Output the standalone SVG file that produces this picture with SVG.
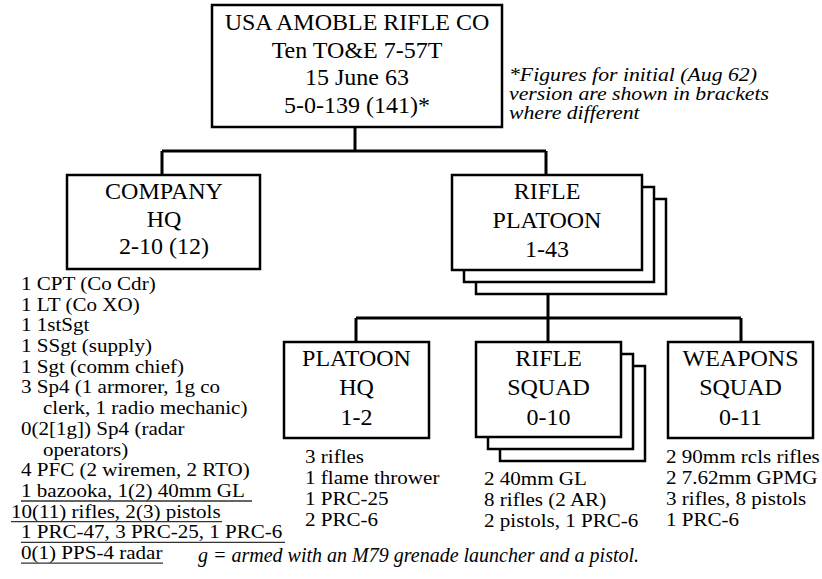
<svg xmlns="http://www.w3.org/2000/svg" width="822" height="579" viewBox="0 0 822 579">
<style>
.box{fill:#fff;stroke:#000;stroke-width:2.5}
.conn{fill:none;stroke:#000;stroke-width:3}
.t{font-family:'Liberation Serif','Times New Roman',serif;fill:#000}
.bt{font-size:24px;text-anchor:middle}
.lt{font-size:19.5px}
.it{font-style:italic}
.ul{stroke:#333;stroke-width:1.3}
</style>
<rect width="822" height="579" fill="#fff"/>
<g id="connectors">
<path class="conn" d="M355 127V151M162 151H546M162 151V175M546 151V175"/>
<path class="conn" d="M548 294V342M356 318H741M356 318V342M741 318V342"/>
</g>
<g id="top" class="t bt">
<rect class="box" x="212" y="5" width="290" height="122"/>
<text x="357" y="30">USA AMOBLE RIFLE CO</text>
<text x="357" y="58">Ten TO&amp;E 7-57T</text>
<text x="357" y="85">15 June 63</text>
<text x="357" y="113">5-0-139 (141)*</text>
</g>
<g id="note" class="t it" font-size="19" transform="translate(509,0) scale(1.145,1)">
<text x="0" y="81">*Figures for initial (Aug 62)</text>
<text x="0" y="100">version are shown in brackets</text>
<text x="0" y="119">where different</text>
</g>
<g id="company-hq" class="t bt">
<rect class="box" x="67" y="175" width="193" height="94"/>
<text x="164" y="199">COMPANY</text>
<text x="164" y="227">HQ</text>
<text x="164" y="254">2-10 (12)</text>
</g>
<g id="company-hq-list">
<g class="t lt" transform="translate(11,0) scale(1.08,1)">
<text x="9.26" y="290">1 CPT (Co Cdr)</text>
<text x="9.26" y="310.7">1 LT (Co XO)</text>
<text x="9.26" y="331.4">1 1stSgt</text>
<text x="9.26" y="352.1">1 SSgt (supply)</text>
<text x="9.26" y="372.8">1 Sgt (comm chief)</text>
<text x="9.26" y="393.5">3 Sp4 (1 armorer, 1g co</text>
<text x="29.6" y="414.2">clerk, 1 radio mechanic)</text>
<text x="9.26" y="434.9">0(2[1g]) Sp4 (radar</text>
<text x="29.6" y="455.6">operators)</text>
<text x="9.26" y="476.3">4 PFC (2 wiremen, 2 RTO)</text>
<text x="9.26" y="497">1 bazooka, 1(2) 40mm GL</text>
<text x="0" y="517.7">10(11) rifles, 2(3) pistols</text>
<text x="9.26" y="538.4">1 PRC-47, 3 PRC-25, 1 PRC-6</text>
<text x="9.26" y="559.1">0(1) PPS-4 radar</text>
</g>
<path class="ul" d="M21 501H252M11 521.7H222M21 542.4H285M21 563.1H163"/>
</g>
<g id="legend" class="t it" font-size="20">
<text x="198" y="562">g = armed with an M79 grenade launcher and a pistol.</text>
</g>
<g id="rifle-platoon" class="t bt">
<rect class="box" x="476" y="199" width="190" height="95"/>
<rect class="box" x="464" y="187" width="190" height="95"/>
<rect class="box" x="452" y="175" width="190" height="95"/>
<text x="547" y="199">RIFLE</text>
<text x="547" y="228">PLATOON</text>
<text x="547" y="257">1-43</text>
</g>
<g id="platoon-hq" class="t bt">
<rect class="box" x="284" y="342" width="145" height="96"/>
<text x="356.5" y="366">PLATOON</text>
<text x="356.5" y="395">HQ</text>
<text x="356.5" y="425">1-2</text>
</g>
<g id="platoon-hq-list" class="t lt" transform="translate(305,0) scale(1.08,1)">
<text x="0" y="463">3 rifles</text>
<text x="0" y="484">1 flame thrower</text>
<text x="0" y="505">1 PRC-25</text>
<text x="0" y="526">2 PRC-6</text>
</g>
<g id="rifle-squad" class="t bt">
<rect class="box" x="500" y="366" width="145" height="95"/>
<rect class="box" x="488" y="354" width="145" height="95"/>
<rect class="box" x="476" y="342" width="145" height="95"/>
<text x="548.5" y="366">RIFLE</text>
<text x="548.5" y="395">SQUAD</text>
<text x="548.5" y="425">0-10</text>
</g>
<g id="rifle-squad-list" class="t lt" transform="translate(484,0) scale(1.08,1)">
<text x="0" y="485">2 40mm GL</text>
<text x="0" y="506">8 rifles (2 AR)</text>
<text x="0" y="527">2 pistols, 1 PRC-6</text>
</g>
<g id="weapons-squad" class="t bt">
<rect class="box" x="668" y="342" width="145" height="96"/>
<text x="740.5" y="366">WEAPONS</text>
<text x="740.5" y="395">SQUAD</text>
<text x="740.5" y="425">0-11</text>
</g>
<g id="weapons-squad-list" class="t lt" transform="translate(666,0) scale(1.08,1)">
<text x="0" y="463">2 90mm rcls rifles</text>
<text x="0" y="484">2 7.62mm GPMG</text>
<text x="0" y="505">3 rifles, 8 pistols</text>
<text x="0" y="526">1 PRC-6</text>
</g>
</svg>
